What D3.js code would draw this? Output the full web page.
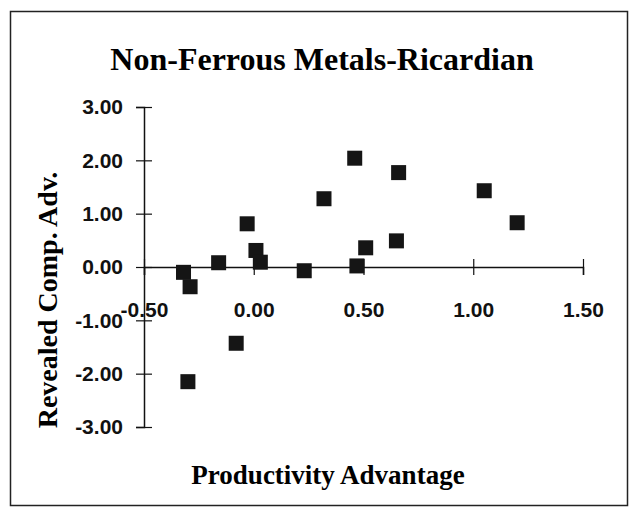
<!DOCTYPE html>
<html>
<head>
<meta charset="utf-8">
<script src="https://cdn.jsdelivr.net/npm/d3@7"></script>
<style>
  body { margin: 0; background: #fff; }
  .tick text { font-family: "Liberation Sans", Arial, sans-serif; font-weight: bold; }
  .ttl { font-family: "Liberation Serif", "Times New Roman", serif; font-weight: bold; }
</style>
</head>
<body>
<svg id="viz"></svg>
<script>
// productivity advantage (x) vs revealed comparative advantage (y)
const prodAdv = [-0.32, -0.29, -0.16, -0.03, 0.01, 0.03, 0.23, 0.32, 0.46, 0.47, 0.51, 0.66, 0.65, 1.05, 1.20, -0.08, -0.30];
const rcaVals = [-0.10, -0.37, 0.08, 0.81, 0.31, 0.09, -0.07, 1.28, 2.04, 0.02, 0.36, 1.77, 0.49, 1.43, 0.83, -1.43, -2.15];

const xTicks = [-0.5, 0, 0.5, 1.0, 1.5];
const yTicks = [-3, -2, -1, 0, 1, 2, 3];

const titleText = 'Non-Ferrous Metals-Ricardian';
const xTitle = 'Productivity Advantage';
const yTitle = 'Revealed Comp. Adv.';

// ----------------------- SETTINGS
const W = 636, H = 511;

const svg = d3.select('#viz')
  .attr('width', W)
  .attr('height', H);

// frame
svg.append('rect')
  .attr('x', 10.5).attr('y', 11.5)
  .attr('width', 617).attr('height', 494)
  .attr('fill', 'none')
  .attr('stroke', '#222')
  .attr('stroke-width', 1.5);

const x = d3.scaleLinear().domain([-0.5, 1.5]).range([144, 583]);
const y = d3.scaleLinear().domain([-3, 3]).range([427, 107]);

// plain hyphen for negatives, like the original
const fmt = d => d.toFixed(2);

// axis y (at x = -0.5)
const gy = svg.append('g')
  .attr('transform', `translate(${x(-0.5)},0)`)
  .call(d3.axisLeft(y).tickValues(yTicks).tickFormat(fmt).tickSize(8));
gy.select('.domain').attr('stroke', '#111').attr('stroke-width', 1.5);
gy.selectAll('.tick line').attr('x1', 8).attr('x2', -8).attr('stroke', '#111').attr('stroke-width', 1.2);
gy.selectAll('.tick text').attr('x', -21).style('font-size', '21px').attr('fill', '#111');

// axis x (at y = 0)
const gx = svg.append('g')
  .attr('transform', `translate(0,${y(0)})`)
  .call(d3.axisBottom(x).tickValues(xTicks).tickFormat(fmt).tickSize(8));
gx.select('.domain').attr('stroke', '#111').attr('stroke-width', 1.5);
gx.selectAll('.tick line').attr('y1', -8).attr('y2', 8).attr('stroke', '#111').attr('stroke-width', 1.2);
gx.selectAll('.tick text').attr('y', 35).style('font-size', '21px').attr('fill', '#111');

// points
svg.selectAll('.pt')
  .data(prodAdv.map((d, i) => ({ px: d, py: rcaVals[i] })))
  .enter().append('rect')
  .attr('class', 'pt')
  .attr('x', d => x(d.px) - 7.5)
  .attr('y', d => y(d.py) - 7.5)
  .attr('width', 15)
  .attr('height', 15)
  .attr('fill', '#151515');

// titles
svg.append('text')
  .attr('class', 'ttl')
  .attr('x', 322).attr('y', 70)
  .attr('text-anchor', 'middle')
  .style('font-size', '32px')
  .text(titleText);

svg.append('text')
  .attr('class', 'ttl')
  .attr('x', 328).attr('y', 484)
  .attr('text-anchor', 'middle')
  .style('font-size', '27px')
  .text(xTitle);

svg.append('text')
  .attr('class', 'ttl')
  .attr('transform', 'translate(57,300) rotate(-90)')
  .attr('text-anchor', 'middle')
  .style('font-size', '28px')
  .text(yTitle);
</script>
</body>
</html>
